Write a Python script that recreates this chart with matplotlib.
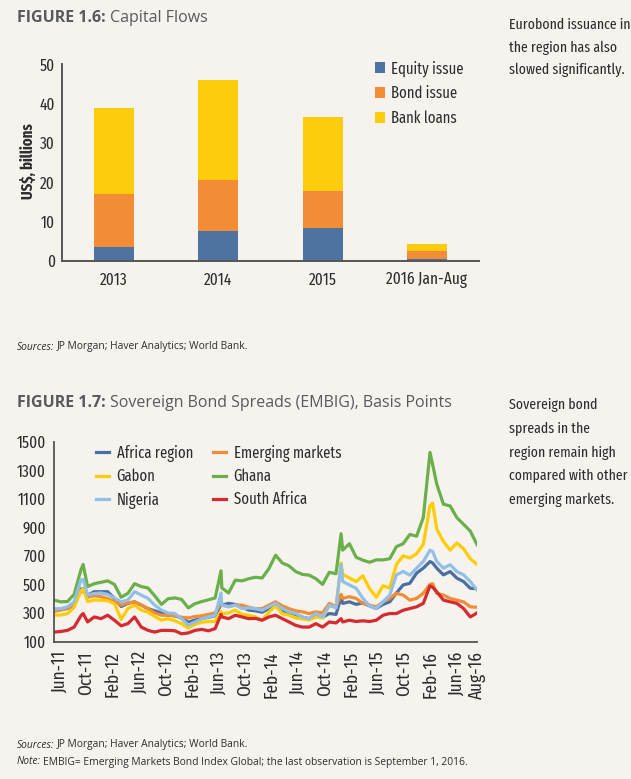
import matplotlib
matplotlib.use("Agg")
import matplotlib.pyplot as plt
import numpy as np
import pandas as pd

# ---- Figure 1.6: capital flows (US$ billions) ----
years = ["2013", "2014", "2015", "2016 Jan-Aug"]
equity = [3.6, 7.6, 8.4, 0.4]
bond = [13.4, 13.0, 9.4, 2.1]
bank = [21.8, 25.3, 18.9, 1.8]

# ---- Figure 1.7: sovereign spreads, read roughly monthly off the chart ----
first_day = "2011-05-06"
last_day = "2016-09-01"
africa = [319, 325, 331, 355, 467, 425, 449, 449, 449, 402,
          345, 367, 378, 355, 330, 315, 300, 284, 280, 265,
          235, 250, 260, 270, 280, 355, 367, 360, 340, 320,
          315, 305, 330, 360, 320, 300, 290, 270, 260, 290,
          270, 296, 290, 367, 378, 360, 370, 350, 331, 360,
          378, 440, 496, 508, 579, 614, 660, 614, 567, 590,
          544, 520, 473, 470]
emerging = [310, 320, 335, 360, 450, 410, 420, 415, 400, 380,
            355, 370, 378, 355, 331, 300, 284, 284, 280, 270,
            265, 275, 280, 290, 300, 355, 345, 355, 355, 340,
            330, 330, 355, 378, 350, 330, 315, 308, 296, 308,
            300, 367, 345, 402, 414, 402, 367, 355, 343, 378,
            402, 438, 425, 390, 402, 438, 500, 438, 425, 402,
            390, 378, 343, 340]
gabon = [285, 285, 295, 340, 455, 380, 390, 390, 385, 365,
         255, 330, 355, 320, 305, 275, 250, 260, 245, 225,
         195, 220, 235, 240, 240, 295, 300, 320, 290, 285,
         272, 250, 305, 350, 295, 284, 265, 258, 250, 272,
         265, 350, 340, 570, 545, 520, 560, 470, 410, 490,
         475, 640, 700, 685, 715, 780, 1050, 890, 800, 740,
         790, 750, 680, 640]
ghana = [390, 378, 380, 430, 600, 485, 505, 515, 525, 500,
         410, 437, 505, 485, 475, 420, 360, 400, 405, 395,
         335, 365, 380, 392, 405, 475, 440, 530, 525, 540,
         550, 545, 610, 705, 650, 630, 590, 570, 565, 540,
         500, 585, 575, 740, 785, 690, 670, 655, 672, 672,
         680, 765, 785, 850, 838, 968, 1425, 1204, 1062, 1050,
         968, 921, 874, 779]
nigeria = [330, 330, 343, 378, 530, 425, 437, 440, 430, 405,
           378, 390, 449, 425, 402, 355, 320, 300, 296, 260,
           215, 237, 258, 272, 284, 355, 343, 355, 331, 335,
           330, 319, 343, 367, 331, 308, 296, 272, 260, 296,
           272, 355, 335, 520, 496, 473, 402, 350, 331, 378,
           425, 567, 591, 565, 614, 661, 740, 661, 614, 638,
           590, 567, 520, 461]
south_africa = [166, 170, 178, 201, 280, 237, 272, 260, 284, 249,
                210, 225, 272, 201, 178, 166, 178, 178, 175, 154,
                160, 178, 185, 175, 190, 272, 260, 284, 272, 260,
                262, 249, 272, 284, 260, 237, 213, 201, 201, 225,
                201, 237, 230, 237, 249, 240, 245, 240, 249, 284,
                296, 296, 319, 331, 343, 367, 490, 449, 390, 378,
                367, 331, 272, 300]

# short-lived spikes between the monthly readings
spike_dates = ["2011-09-17", "2013-06-12", "2014-12-16", "2016-02-10"]
africa_spk = [470, 360, 410, 650]
emerging_spk = [455, 370, 430, 505]
gabon_spk = [470, 310, 650, 1070]
ghana_spk = [640, 595, 855, 1340]
nigeria_spk = [535, 440, 640, 730]
south_africa_spk = [296, 290, 260, 480]

tick_dates = ["2011-06-01", "2011-10-01", "2012-02-01", "2012-06-01",
              "2012-10-01", "2013-02-01", "2013-06-01", "2013-10-01",
              "2014-02-01", "2014-06-01", "2014-10-01", "2015-02-01",
              "2015-06-01", "2015-10-01", "2016-02-01", "2016-06-01",
              "2016-09-01"]
tick_labels = ["Jun-11", "Oct-11", "Feb-12", "Jun-12", "Oct-12", "Feb-13",
               "Jun-13", "Oct-13", "Feb-14", "Jun-14", "Oct-14", "Feb-15",
               "Jun-15", "Oct-15", "Feb-16", "Jun-16", "Aug-16"]

BG = "#f6f3ef"
TXT = "#2e2e2e"
GREY = "#58595b"
NARROW = ["Fira Sans Extra Condensed", "PT Sans Narrow", "Asap Condensed",
          "DejaVu Sans"]
TITLE = ["Open Sans", "DejaVu Sans"]

plt.rcParams["font.family"] = NARROW

W, H = 631, 779
fig = plt.figure(figsize=(W / 100, H / 100), dpi=100, facecolor=BG)


def fx(x):
    return x / W


def fy(y):
    return 1 - y / H


def rect(l, t, r, b):
    return [fx(l), fy(b), fx(r) - fx(l), fy(t) - fy(b)]


def title(y, bold, rest):
    t = fig.text(fx(17), fy(y), bold, family=TITLE, fontweight="bold",
                 fontsize=11.5, color=GREY, va="center")
    fig.canvas.draw()
    bb = t.get_window_extent(fig.canvas.get_renderer())
    fig.text(bb.x1 / W + 4 / W, fy(y), rest, family=TITLE, fontsize=11.5,
             color=GREY, va="center")


def note(y, head, rest):
    t = fig.text(fx(17), fy(y), head, family=TITLE, style="italic",
                 fontsize=7.35, color=TXT, va="center")
    fig.canvas.draw()
    bb = t.get_window_extent(fig.canvas.get_renderer())
    fig.text(bb.x1 / W + 2 / W, fy(y), rest, family=TITLE, fontsize=7.35,
             color=TXT, va="center")


def side(y0, step, lines):
    for i, s in enumerate(lines):
        fig.text(fx(509), fy(y0 + i * step), s, fontsize=10.8, color=TXT,
                 va="center")


# ---------------- top chart ----------------
title(18, "FIGURE 1.6:", "Capital Flows")
side(25, 22.5, ["Eurobond issuance in", "the region has also",
                "slowed significantly."])

ax1 = fig.add_axes(rect(62, 64.3, 479, 261))
ax1.set_facecolor(BG)
x = np.arange(len(years))
bw = 0.385
ax1.bar(x, equity, bw, color="#4e73a1", label="Equity issue")
ax1.bar(x, bond, bw, bottom=equity, color="#f28c35", label="Bond issue")
bottom2 = np.array(equity) + np.array(bond)
ax1.bar(x, bank, bw, bottom=bottom2, color="#fdcc0d", label="Bank loans")
ax1.set_xlim(-0.5, 3.5)
ax1.set_ylim(0, 50)
ax1.set_yticks(range(0, 51, 10))
ax1.set_xticks(x)
ax1.set_xticklabels(years)
ax1.tick_params(axis="x", length=0, pad=8, labelsize=12, colors=TXT)
ax1.tick_params(axis="y", length=0, pad=5, labelsize=12, colors=TXT)
for s in ["top", "right"]:
    ax1.spines[s].set_visible(False)
for s in ["left", "bottom"]:
    ax1.spines[s].set_color("#555555")
    ax1.spines[s].set_linewidth(1.4)
ax1.legend(loc="upper left", bbox_to_anchor=(0.715, 1.095), frameon=False,
           fontsize=11.5, handlelength=0.65, handleheight=0.65,
           handletextpad=0.35, labelspacing=0.55, labelcolor=TXT)
fig.text(fx(28), fy(161), "US$, billions", rotation=90, fontweight="bold",
         fontsize=11.5, color=TXT, ha="center", va="center")

note(347, "Sources:", "JP Morgan; Haver Analytics; World Bank.")

# ---------------- bottom chart ----------------
title(403, "FIGURE 1.7:", "Sovereign Bond Spreads (EMBIG), Basis Points")
side(405, 23.7, ["Sovereign bond", "spreads in the", "region remain high",
                 "compared with other", "emerging markets."])

base = pd.date_range(first_day, last_day, periods=len(ghana))
spk = pd.to_datetime(spike_dates)


def series(vals, spikes):
    s = pd.Series(list(vals) + list(spikes), index=base.append(spk))
    return s.sort_index()


ax2 = fig.add_axes(rect(54, 441.7, 477, 641.5))
ax2.set_facecolor(BG)
lines = [
    ("Africa region", africa, africa_spk, "#4a6fa3"),
    ("Emerging markets", emerging, emerging_spk, "#f28c35"),
    ("Gabon", gabon, gabon_spk, "#ffcc00"),
    ("Ghana", ghana, ghana_spk, "#6ab04a"),
    ("Nigeria", nigeria, nigeria_spk, "#92bfe7"),
    ("South Africa", south_africa, south_africa_spk, "#d52a2f"),
]
handles = {}
for name, vals, spikes, col in lines:
    s = series(vals, spikes)
    (h,) = ax2.plot(s.index, s.values, color=col, lw=2.3, label=name,
                    solid_joinstyle="round")
    handles[name] = h

ax2.set_xlim(pd.Timestamp(first_day), pd.Timestamp(last_day))
ax2.set_ylim(100, 1500)
ax2.set_yticks(range(100, 1501, 200))
ax2.set_xticks(pd.to_datetime(tick_dates))
ax2.set_xticklabels(tick_labels, rotation=90, va="top", ha="center")
ax2.tick_params(axis="x", length=0, pad=7, labelsize=13.5, colors=TXT)
ax2.tick_params(axis="y", length=0, pad=6, labelsize=12, colors=TXT)
for s in ["top", "right"]:
    ax2.spines[s].set_visible(False)
for s in ["left", "bottom"]:
    ax2.spines[s].set_color("#555555")
    ax2.spines[s].set_linewidth(1.3)

order = ["Africa region", "Gabon", "Nigeria", "Emerging markets", "Ghana",
         "South Africa"]
ax2.legend([handles[n] for n in order], order, ncol=2, loc="upper left",
           bbox_to_anchor=(0.065, 1.055), frameon=False, fontsize=11.5,
           handlelength=0.8, handletextpad=0.5, labelspacing=0.42,
           columnspacing=1.25, labelcolor=TXT)

note(745, "Sources:", "JP Morgan; Haver Analytics; World Bank.")
note(762, "Note:", "EMBIG= Emerging Markets Bond Index Global; the last "
     "observation is September 1, 2016.")

fig.savefig("out.png", dpi=100, facecolor=BG)
